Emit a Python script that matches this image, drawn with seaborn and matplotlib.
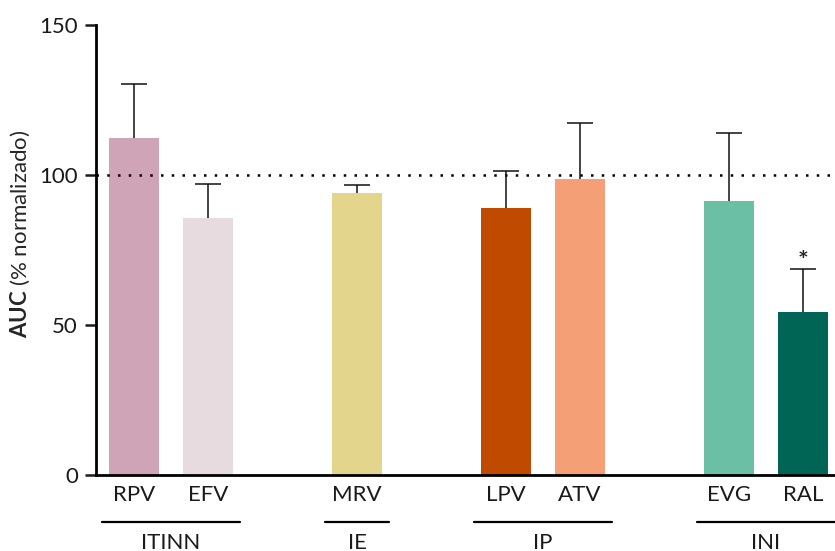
import numpy as np
import pandas as pd
import matplotlib
matplotlib.use("Agg")
import matplotlib.pyplot as plt
import matplotlib.transforms as mtransforms
import seaborn as sns

# data
drugs = ["RPV", "EFV", "MRV", "LPV", "ATV", "EVG", "RAL"]
slots = [0, 1, 3, 5, 6, 8, 9]
auc_mean = [112.4, 85.7, 94.0, 89.0, 98.7, 91.4, 54.3]
auc_upper = [130.2, 97.1, 96.7, 101.4, 117.2, 114.1, 68.7]
colors = ["#CEA4B6", "#E8DBE0", "#E3D58C", "#C04A00", "#F59F76", "#6BBFA5", "#006554"]
groups = ["ITINN", "IE", "IP", "INI"]
group_members = [["RPV", "EFV"], ["MRV"], ["LPV", "ATV"], ["EVG", "RAL"]]
significant = ["RAL"]

df = pd.DataFrame({"drug": drugs, "pos": slots, "auc": auc_mean, "upper": auc_upper})

sns.set_style("ticks")
plt.rcParams["font.family"] = ["Lato", "DejaVu Sans"]
plt.rcParams["mathtext.fontset"] = "custom"
plt.rcParams["mathtext.bf"] = "Lato:bold"
plt.rcParams["mathtext.rm"] = "Lato"

FS = 16

fig = plt.figure(figsize=(8.35, 5.51), dpi=100)
ax = fig.add_axes([96 / 835, 1 - 475 / 551, 1 - 96 / 835, 450 / 551])

sns.barplot(data=df, x="pos", y="auc", hue="drug", palette=dict(zip(drugs, colors)),
            native_scale=True, width=0.67, errorbar=None, legend=False, ax=ax,
            saturation=1, linewidth=0)

# upper-only error bars
ax.vlines(df["pos"], df["auc"], df["upper"], color="#111111", lw=1.1, zorder=3)
ax.plot(df["pos"], df["upper"], ls="none", marker="_", ms=19, mew=1.1,
        color="#111111", zorder=3)

for d in significant:
    row = df[df["drug"] == d].iloc[0]
    ax.text(row["pos"], row["upper"] - 1.5, "*", ha="center", va="bottom",
            fontsize=18, fontweight="bold")

ax.axhline(100, color="black", ls=(0, (1, 3.3)), lw=1.8, zorder=1)

ax.set_xlim(-0.51, 9.43)
ax.set_ylim(0, 150)
ax.set_yticks([0, 50, 100, 150])
ax.set_xticks(slots)
ax.set_xticklabels(drugs)
ax.tick_params(axis="y", length=8, width=1.8, labelsize=FS, pad=5, colors="#1a1a1a")
ax.tick_params(axis="x", length=0, labelsize=FS, pad=7, colors="#1a1a1a")
for s in ["top", "right"]:
    ax.spines[s].set_visible(False)
for s in ["left", "bottom"]:
    ax.spines[s].set_linewidth(2)
    ax.spines[s].set_color("black")

ax.set_xlabel("")
ax.set_ylabel(r"$\mathbf{AUC}$ (% normalizado)", fontsize=FS)
ax.yaxis.set_label_coords(-0.087, 0.535)

# group brackets under the tick labels
trans = mtransforms.blended_transform_factory(ax.transData, ax.transAxes)
line_y = (475 - 522) / 450
text_y = (475 - 543) / 450
pos_of = dict(zip(drugs, slots))
for g, members in zip(groups, group_members):
    xs = [pos_of[m] for m in members]
    cx = np.mean(xs)
    span = (max(xs) - min(xs)) / 2 + 0.43
    x1 = cx + span if g != "INI" else 9.6
    ax.plot([cx - span, x1], [line_y, line_y], color="black", lw=1.6,
            transform=trans, clip_on=False)
    ax.text(cx, text_y, g, ha="center", va="center", fontsize=FS,
            color="#1a1a1a", transform=trans, clip_on=False)

fig.savefig("out.png", dpi=100)
